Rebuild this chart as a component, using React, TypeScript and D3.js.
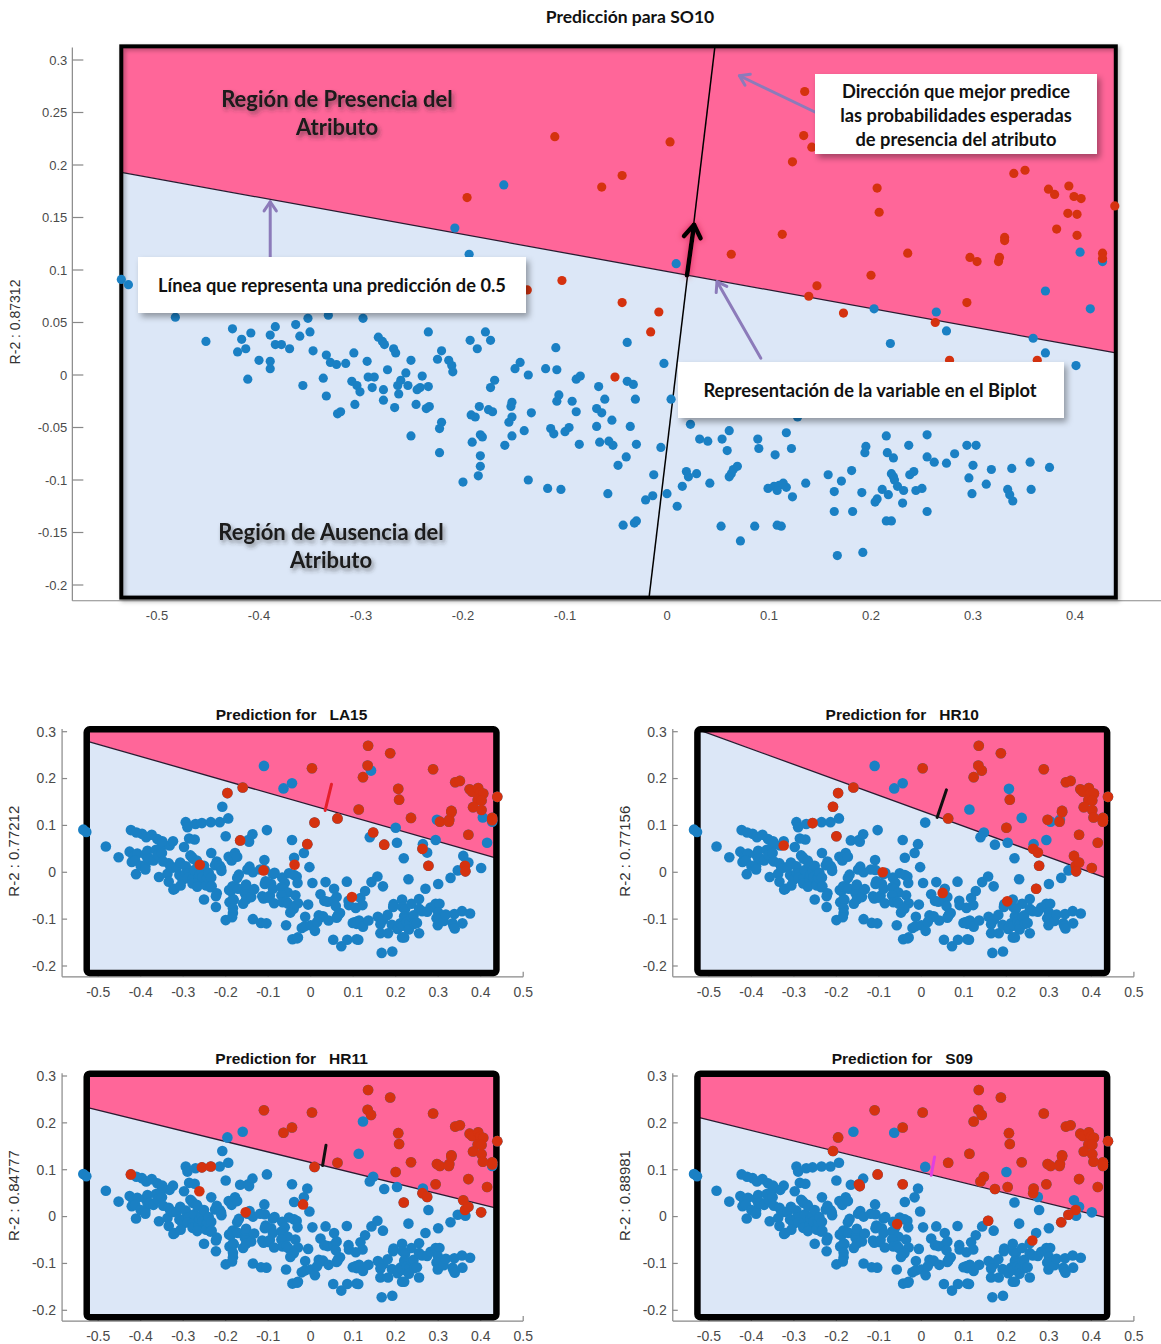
import React from 'react';
import * as d3 from 'd3';

type P = [number, number];

// ---------------- DATA ----------------
// individuals of the biplot that are absent (blue) in SO10, lower cluster
const clusterPts: P[] = [
  [-0.535, 0.091], [-0.528, 0.086],
  [-0.482, 0.055], [-0.452, 0.032], [-0.426, 0.044], [-0.417, 0.034], [-0.408, 0.040], [-0.421, 0.022], [-0.413, 0.025], [-0.411, -0.004],
  [-0.400, 0.014], [-0.389, 0.038], [-0.384, 0.046], [-0.389, 0.013], [-0.389, 0.006], [-0.384, 0.029], [-0.378, 0.029], [-0.370, 0.025],
  [-0.364, 0.048], [-0.360, 0.037], [-0.352, 0.054], [-0.350, 0.041], [-0.357, -0.010], [-0.347, 0.023], [-0.334, 0.019], [-0.337, -0.003],
  [-0.334, -0.020], [-0.332, 0.057], [-0.330, 0.012], [-0.324, 0.010], [-0.315, 0.011], [-0.323, -0.037], [-0.320, -0.035], [-0.307, 0.021],
  [-0.309, -0.006], [-0.304, -0.010], [-0.301, -0.016], [-0.306, -0.028], [-0.298, 0.054], [-0.294, 0.013], [-0.293, -0.002], [-0.287, -0.002],
  [-0.289, -0.012], [-0.283, 0.036], [-0.279, 0.032], [-0.277, 0.029], [-0.278, -0.014], [-0.278, -0.024], [-0.274, 0.005], [-0.268, 0.025],
  [-0.266, 0.021], [-0.264, -0.010], [-0.263, -0.018], [-0.267, -0.031], [-0.261, -0.005], [-0.256, 0.002], [-0.254, -0.010], [-0.251, 0.014],
  [-0.245, -0.014], [-0.246, -0.028], [-0.251, -0.058], [-0.242, -0.012], [-0.240, -0.001], [-0.234, 0.041], [-0.234, -0.011], [-0.236, -0.032],
  [-0.233, -0.030], [-0.225, 0.015], [-0.221, 0.023], [-0.221, -0.045], [-0.223, -0.051], [-0.223, -0.074], [-0.214, 0.014], [-0.211, 0.009],
  [-0.210, 0.003], [-0.200, -0.102], [-0.193, 0.033], [-0.192, -0.038], [-0.188, -0.040], [-0.191, -0.064], [-0.186, 0.025], [-0.184, -0.030],
  [-0.183, -0.057], [-0.181, -0.059], [-0.183, -0.077], [-0.183, -0.087], [-0.185, -0.096], [-0.178, 0.041], [-0.173, 0.033], [-0.175, -0.033],
  [-0.171, -0.035], [-0.173, -0.012], [-0.169, -0.005], [-0.159, -0.067], [-0.155, -0.045], [-0.152, -0.040], [-0.153, -0.030], [-0.152, -0.026],
  [-0.152, -0.058], [-0.149, 0.006], [-0.144, 0.012], [-0.140, -0.053], [-0.136, 0.000], [-0.133, -0.036], [-0.136, -0.100], [-0.119, 0.006],
  [-0.117, -0.108], [-0.114, -0.051], [-0.111, -0.056], [-0.109, 0.026], [-0.108, 0.005], [-0.106, -0.019], [-0.108, -0.025], [-0.104, -0.109],
  [-0.100, -0.054], [-0.096, -0.050], [-0.093, -0.025], [-0.089, -0.035], [-0.089, -0.004], [-0.085, -0.001], [-0.086, -0.066],
  [-0.039, 0.031], [-0.003, 0.011], [-0.039, -0.006], [-0.033, -0.009], [-0.067, -0.011], [-0.061, -0.023], [-0.069, -0.032], [-0.064, -0.036],
  [-0.054, -0.043], [-0.069, -0.049], [-0.036, -0.049], [-0.031, -0.023], [0.004, -0.023], [-0.066, -0.064], [-0.057, -0.063], [-0.053, -0.067],
  [-0.030, -0.066], [-0.040, -0.078], [-0.048, -0.086], [-0.006, -0.069], [-0.013, -0.095], [-0.058, -0.113], [-0.021, -0.119], [-0.014, -0.115],
  [0.000, -0.113], [0.010, -0.125], [-0.043, -0.143], [-0.032, -0.141], [-0.030, -0.139], [0.023, -0.047], [0.032, -0.061], [0.040, -0.063],
  [0.054, -0.061], [0.061, -0.053], [0.059, -0.072], [0.089, -0.061], [0.090, -0.070], [0.106, -0.076], [0.117, -0.055], [0.122, -0.070],
  [0.128, -0.040], [0.019, -0.092], [0.021, -0.097], [0.029, -0.094], [0.015, -0.106], [0.042, -0.103], [0.063, -0.094], [0.065, -0.090],
  [0.069, -0.087], [0.061, -0.097], [0.099, -0.108], [0.105, -0.106], [0.110, -0.105], [0.114, -0.103], [0.108, -0.110], [0.117, -0.107],
  [0.123, -0.116], [0.053, -0.144], [0.072, -0.158], [0.086, -0.144], [0.108, -0.143], [0.112, -0.144], [0.136, -0.103], [0.158, -0.095],
  [0.171, -0.101], [0.181, -0.091], [0.164, -0.111], [0.164, -0.130], [0.182, -0.130], [0.167, -0.172], [0.192, -0.169], [0.191, -0.112],
  [0.195, -0.068], [0.194, -0.074], [0.204, -0.121], [0.206, -0.118], [0.215, -0.058], [0.216, -0.074], [0.222, -0.079], [0.220, -0.094],
  [0.222, -0.097], [0.223, -0.100], [0.211, -0.109], [0.217, -0.114], [0.226, -0.106], [0.232, -0.110], [0.231, -0.122], [0.215, -0.139],
  [0.220, -0.139], [0.237, -0.067], [0.238, -0.095], [0.242, -0.092], [0.244, -0.110], [0.250, -0.108], [0.255, -0.057], [0.255, -0.078],
  [0.262, -0.083], [0.255, -0.130], [0.274, -0.084], [0.282, -0.075], [0.294, -0.067], [0.303, -0.067], [0.300, -0.086], [0.296, -0.098],
  [0.299, -0.113], [0.313, -0.104], [0.318, -0.090], [0.334, -0.109], [0.336, -0.114], [0.339, -0.120], [0.338, -0.089], [0.356, -0.083],
  [0.357, -0.109], [0.375, -0.088],
];

// individuals hidden behind the annotation boxes of the main chart
const hiddenPts: P[] = [
  [-0.423, 0.090], [-0.397, 0.082], [-0.387, 0.075], [-0.361, 0.071], [-0.349, 0.066], [-0.294, 0.107], [-0.290, 0.096], [-0.271, 0.103],
  [-0.256, 0.105], [-0.235, 0.107], [-0.214, 0.107], [-0.200, 0.077], [-0.286, 0.072], [-0.273, 0.070], [-0.166, 0.068], [-0.147, 0.069],
  [-0.145, 0.065], [-0.324, 0.066], [-0.374, 0.080], [-0.410, 0.085],
  [0.035, -0.021], [0.055, -0.035], [0.143, -0.021], [0.157, -0.009], [0.170, -0.030], [0.270, -0.035], [0.300, -0.025], [0.329, -0.012],
  [0.346, 0.004], [0.364, 0.002], [0.085, -0.020], [0.230, -0.015],
];

// individuals of the upper part of the plane (shared by all panels)
const upperPts: P[] = [
  [0.135, 0.270], [0.003, 0.222], [-0.044, 0.190], [-0.064, 0.179], [0.134, 0.228], [0.142, 0.217], [0.123, 0.203], [0.340, 0.192], [0.351, 0.195], [0.206, 0.178],
  [0.208, 0.155], [0.374, 0.177], [0.380, 0.172], [0.394, 0.180], [0.399, 0.170], [0.406, 0.168], [0.393, 0.154], [0.402, 0.153], [0.439, 0.161], [0.382, 0.139],
  [0.402, 0.133], [0.113, 0.134], [0.063, 0.115], [0.236, 0.116], [0.331, 0.131], [0.331, 0.128], [0.297, 0.112], [0.304, 0.108], [0.326, 0.112], [0.325, 0.108],
  [0.427, 0.116], [0.427, 0.111], [0.200, 0.095], [0.147, 0.085], [0.139, 0.075], [-0.044, 0.069], [-0.008, 0.060], [0.173, 0.059], [0.294, 0.069], [0.263, 0.050],
  [0.277, 0.014], [0.363, 0.014], [-0.016, 0.041], [-0.051, -0.002], [-0.110, 0.227], [-0.196, 0.169], [-0.103, 0.090], [-0.137, 0.081], [0.187, 0.254], [0.288, 0.220],
  [-0.160, 0.181], [-0.208, 0.140], [-0.194, 0.115], [0.009, 0.106], [0.405, 0.117], [0.427, 0.108], [0.371, 0.080], [0.415, 0.063], [0.203, 0.063], [0.264, 0.060],
  [0.274, 0.042], [0.219, 0.030], [0.359, 0.035], [0.371, 0.021], [0.401, 0.009],
];

// presence (1) / absence (0) of each attribute for the upper individuals
const presenceSO10 = [
  1, 1, 1, 1, 1, 1, 1, 1, 1, 1, 1, 1, 1, 1, 1, 1, 1, 1, 1, 1, 1, 1, 1, 1, 1, 1, 1, 1, 1, 1,
  1, 1, 1, 1, 1, 1, 1, 1, 1, 1, 1, 1, 1, 1, 1, 1, 1, 1, 1, 1, 0, 0, 0, 0, 0, 0, 0, 0, 0, 0,
  0, 0, 0, 0, 0,
];
const presenceLA15 = [
  1, 1, 0, 0, 1, 0, 1, 1, 1, 1, 1, 1, 1, 1, 1, 1, 1, 1, 1, 1, 1, 1, 1, 1, 1, 1, 0, 1, 1, 1,
  1, 1, 0, 1, 0, 0, 1, 1, 0, 1, 1, 1, 0, 0, 0, 1, 0, 0, 1, 1, 1, 0, 0, 1, 0, 0, 1, 0, 0, 0,
  0, 0, 0, 0, 0,
];
const presenceHR10 = [
  1, 1, 0, 0, 1, 1, 1, 1, 1, 0, 1, 1, 1, 1, 1, 1, 1, 1, 1, 1, 1, 0, 1, 0, 1, 1, 1, 0, 0, 1,
  1, 1, 1, 0, 0, 0, 0, 0, 0, 1, 1, 1, 0, 0, 0, 1, 0, 0, 1, 1, 1, 1, 0, 0, 1, 1, 1, 1, 0, 0,
  1, 0, 1, 1, 1,
];
const presenceHR11 = [
  1, 1, 1, 1, 1, 1, 0, 1, 1, 1, 1, 1, 1, 1, 1, 1, 1, 1, 1, 1, 1, 0, 1, 1, 1, 1, 1, 1, 1, 1,
  1, 1, 1, 0, 0, 0, 0, 0, 1, 1, 0, 1, 0, 0, 1, 0, 0, 0, 1, 1, 0, 0, 0, 1, 1, 0, 1, 1, 0, 0,
  1, 1, 1, 1, 1,
];
const presenceS09 = [
  1, 1, 1, 0, 1, 1, 1, 1, 1, 1, 1, 1, 1, 1, 1, 1, 1, 1, 1, 1, 1, 1, 1, 1, 1, 1, 1, 1, 1, 1,
  1, 1, 0, 1, 1, 1, 0, 1, 1, 1, 0, 1, 0, 0, 1, 1, 1, 0, 1, 1, 0, 1, 0, 0, 1, 1, 1, 1, 1, 1,
  0, 0, 0, 0, 0,
];

// further individuals with presence in the lower part of each small panel
const extraRedLA15: P[] = [[-0.166, 0.068], [0.364, 0.002], [-0.261, 0.016], [-0.111, 0.004], [-0.038, 0.016], [0.097, -0.053]];
const extraRedHR10: P[] = [[0.364, 0.002], [0.270, -0.035], [0.202, -0.062], [0.050, -0.044], [-0.091, 0.000], [-0.324, 0.057], [-0.256, 0.105], [-0.200, 0.077]];
const extraRedHR11: P[] = [[-0.423, 0.090], [-0.256, 0.105], [-0.235, 0.107], [-0.262, 0.054], [-0.153, 0.009], [-0.018, 0.026]];
const extraRedS09: P[] = [[0.346, 0.004], [0.329, -0.012], [-0.147, 0.069], [-0.145, 0.065], [-0.057, -0.016], [0.157, -0.009], [0.261, -0.051]];

// main panel geometry in data units
const mainBoundary: P[] = [[-0.535, 0.193], [0.44, 0.021]];
const mainDirection: P[] = [[-0.0176, -0.212], [0.047, 0.313]];
const mainArrow: P[] = [[0.0196, 0.095], [0.0265, 0.143]];
const mainFrameX = [-0.535, 0.44];
const mainFrameY = [-0.212, 0.313];

const mainXTicks = [-0.5, -0.4, -0.3, -0.2, -0.1, 0, 0.1, 0.2, 0.3, 0.4];
const mainXTickLabels = ['-0.5', '-0.4', '-0.3', '-0.2', '-0.1', '0', '0.1', '0.2', '0.3', '0.4'];
const mainYTicks = [0.3, 0.25, 0.2, 0.15, 0.1, 0.05, 0, -0.05, -0.1, -0.15, -0.2];
const mainYTickLabels = ['0.3', '0.25', '0.2', '0.15', '0.1', '0.05', '0', '-0.05', '-0.1', '-0.15', '-0.2'];

const smallXTicks = [-0.5, -0.4, -0.3, -0.2, -0.1, 0, 0.1, 0.2, 0.3, 0.4, 0.5];
const smallXTickLabels = ['-0.5', '-0.4', '-0.3', '-0.2', '-0.1', '0', '0.1', '0.2', '0.3', '0.4', '0.5'];
const smallYTicks = [0.3, 0.2, 0.1, 0, -0.1, -0.2];
const smallYTickLabels = ['0.3', '0.2', '0.1', '0', '-0.1', '-0.2'];

const smallNames = ['LA15', 'HR10', 'HR11', 'S09'];
const smallR2 = ['0.77212', '0.77156', '0.84777', '0.88981'];
const smallBoundaries: P[][] = [
  [[-0.527, 0.280], [0.437, 0.030]],
  [[-0.527, 0.305], [0.437, -0.013]],
  [[-0.527, 0.233], [0.437, 0.018]],
  [[-0.527, 0.212], [0.437, -0.003]],
];
const smallSegments: P[][] = [
  [[0.034, 0.132], [0.049, 0.188]],
  [[0.037, 0.117], [0.059, 0.176]],
  [[0.028, 0.109], [0.036, 0.152]],
  [[0.023, 0.088], [0.031, 0.127]],
];
const smallPresence = [presenceLA15, presenceHR10, presenceHR11, presenceS09];
const smallExtraRed = [extraRedLA15, extraRedHR10, extraRedHR11, extraRedS09];
const smallFrameX = [-0.527, 0.437];
const smallFrameY = [-0.215, 0.305];

// ---------------- STYLE ----------------
const PINK = '#FF6699';
const LIGHT = '#DCE7F7';
const RED = '#D5320F';
const BLUE = '#1A80C4';
const PURPLE = '#8C7BBA';
const TICK = '#4a4a4a';
const tickFont = "'Liberation Sans', Arial, Helvetica, sans-serif";
const annFont = "Lato, 'Open Sans', sans-serif";
const segColors = ['#E5202A', '#111111', '#111111', '#E040E0'];

function Arrow({ x1, y1, x2, y2, color, width, head }: any) {
  const a = Math.atan2(y2 - y1, x2 - x1);
  const w1 = [x2 + head * Math.cos(a + 2.55), y2 + head * Math.sin(a + 2.55)];
  const w2 = [x2 + head * Math.cos(a - 2.55), y2 + head * Math.sin(a - 2.55)];
  return (
    <g stroke={color} strokeWidth={width} fill="none" strokeLinecap="round" strokeLinejoin="round">
      <line x1={x1} y1={y1} x2={x2} y2={y2} />
      <polyline points={`${w1[0]},${w1[1]} ${x2},${y2} ${w2[0]},${w2[1]}`} />
    </g>
  );
}

function MainChart() {
  const x = d3.scaleLinear().domain([-0.5, 0.4]).range([157, 1075]);
  const y = d3.scaleLinear().domain([-0.2, 0.3]).range([585, 60]);
  const fx0 = x(mainFrameX[0]), fx1 = x(mainFrameX[1]);
  const fy0 = y(mainFrameY[1]), fy1 = y(mainFrameY[0]);
  const bL = y(mainBoundary[0][1]), bR = y(mainBoundary[1][1]);
  const axX = x(-0.583), axY = y(-0.215);
  const reds = upperPts.filter((_, i) => presenceSO10[i] === 1);
  const blues = upperPts.filter((_, i) => presenceSO10[i] === 0);
  const r = 4.6;
  const boxText = { fontFamily: annFont, fontWeight: 700, fontSize: 18.3, fill: '#111' } as any;
  const regionText = { fontFamily: annFont, fontWeight: 700, fontSize: 22, fill: '#1a1a1a' } as any;
  return (
    <g>
      <text x={630} y={23} textAnchor="middle" style={{ fontFamily: annFont, fontWeight: 700, fontSize: 17.5 }} fill="#111">Predicción para SO10</text>
      {/* axes */}
      <line x1={axX} y1={y(0.312)} x2={axX} y2={axY} stroke="#888" strokeWidth={1.2} />
      <line x1={axX} y1={axY} x2={1161} y2={axY} stroke="#888" strokeWidth={1.2} />
      {mainYTicks.map((t, i) => (
        <g key={'yt' + i}>
          <line x1={axX} x2={axX + 11} y1={y(t)} y2={y(t)} stroke="#888" strokeWidth={1.2} />
          <text x={axX - 5} y={y(t)} dy="0.35em" textAnchor="end" style={{ fontFamily: tickFont, fontSize: 13 }} fill={TICK}>{mainYTickLabels[i]}</text>
        </g>
      ))}
      {mainXTicks.map((t, i) => (
        <text key={'xt' + i} x={x(t)} y={axY + 19} textAnchor="middle" style={{ fontFamily: tickFont, fontSize: 13 }} fill={TICK}>{mainXTickLabels[i]}</text>
      ))}
      <text transform={`translate(20,${(fy0 + fy1) / 2}) rotate(-90)`} textAnchor="middle" style={{ fontFamily: tickFont, fontSize: 14 }} fill="#333">R-2 : 0.87312</text>
      {/* regions */}
      <polygon points={`${fx0},${fy0} ${fx1},${fy0} ${fx1},${bR} ${fx0},${bL}`} fill={PINK} />
      <polygon points={`${fx0},${bL} ${fx1},${bR} ${fx1},${fy1} ${fx0},${fy1}`} fill={LIGHT} />
      <line x1={fx0} y1={bL} x2={fx1} y2={bR} stroke="#2a1a30" strokeWidth={1.3} />
      <line x1={x(mainDirection[0][0])} y1={y(mainDirection[0][1])} x2={x(mainDirection[1][0])} y2={y(mainDirection[1][1])} stroke="#000" strokeWidth={1.5} />
      <rect x={fx0} y={fy0} width={fx1 - fx0} height={fy1 - fy0} fill="none" stroke="#000" strokeWidth={4} filter="url(#frameShadow)" />
      {/* points */}
      {clusterPts.concat(hiddenPts, blues).map((p, i) => (
        <circle key={'b' + i} cx={x(p[0])} cy={y(p[1])} r={r} fill={BLUE} />
      ))}
      {reds.map((p, i) => (
        <circle key={'r' + i} cx={x(p[0])} cy={y(p[1])} r={r} fill={RED} />
      ))}
      <g filter="url(#arrowGlow)">
        <Arrow x1={x(mainArrow[0][0])} y1={y(mainArrow[0][1])} x2={x(mainArrow[1][0])} y2={y(mainArrow[1][1])} color="#000" width={4.5} head={15} />
      </g>
      {/* region labels */}
      <g filter="url(#textShadow)">
        <text x={337} y={107} textAnchor="middle" style={regionText}>Región de Presencia del</text>
        <text x={337} y={135} textAnchor="middle" style={regionText}>Atributo</text>
        <text x={331} y={540} textAnchor="middle" style={regionText}>Región de Ausencia del</text>
        <text x={331} y={568} textAnchor="middle" style={regionText}>Atributo</text>
      </g>
      {/* annotation arrows */}
      <Arrow x1={x(-0.389)} y1={y(0.113)} x2={x(-0.389)} y2={y(0.165)} color={PURPLE} width={3} head={11} />
      <Arrow x1={x(0.146)} y1={y(0.250)} x2={x(0.071)} y2={y(0.285)} color={PURPLE} width={3} head={11} />
      <Arrow x1={x(0.092)} y1={y(0.016)} x2={x(0.049)} y2={y(0.089)} color={PURPLE} width={3} head={11} />
      {/* annotation boxes */}
      <g filter="url(#boxShadow)">
        <rect x={138} y={257} width={388} height={56} fill="#fff" />
        <rect x={815} y={74} width={282} height={80} fill="#fff" />
        <rect x={678} y={362} width={386} height={56} fill="#fff" />
      </g>
      <text x={332} y={292} textAnchor="middle" style={boxText}>Línea que representa una predicción de 0.5</text>
      <text x={956} y={98} textAnchor="middle" style={boxText}>Dirección que mejor predice</text>
      <text x={956} y={122} textAnchor="middle" style={boxText}>las probabilidades  esperadas</text>
      <text x={956} y={146} textAnchor="middle" style={boxText}>de presencia del atributo</text>
      <text x={870} y={397} textAnchor="middle" style={boxText}>Representación de la variable en el Biplot</text>
    </g>
  );
}

function SmallChart({ idx, ox, oy }: { idx: number; ox: number; oy: number }) {
  const x = d3.scaleLinear().domain([-0.5, 0.5]).range([98.2 + ox, 523.2 + ox]);
  const y = d3.scaleLinear().domain([-0.2, 0.3]).range([966 + oy, 731.7 + oy]);
  const fx0 = x(smallFrameX[0]), fx1 = x(smallFrameX[1]);
  const fy0 = y(smallFrameY[1]), fy1 = y(smallFrameY[0]);
  const bnd = smallBoundaries[idx];
  const bL = y(bnd[0][1]), bR = y(bnd[1][1]);
  const seg = smallSegments[idx];
  const pres = smallPresence[idx];
  const axX = x(-0.585), axY = y(-0.223);
  const reds = upperPts.filter((_, i) => pres[i] === 1).concat(smallExtraRed[idx]);
  const r = 5.3;
  const tick = { fontFamily: tickFont, fontSize: 14 } as any;
  return (
    <g>
      <text x={(fx0 + fx1) / 2} y={y(0.3) - 12} textAnchor="middle" style={{ fontFamily: tickFont, fontWeight: 700, fontSize: 15.5, whiteSpace: 'pre' }} fill="#111">{'Prediction for   ' + smallNames[idx]}</text>
      <line x1={axX} y1={y(0.306)} x2={axX} y2={axY} stroke="#888" strokeWidth={1.2} />
      <line x1={axX} y1={axY} x2={x(0.5)} y2={axY} stroke="#888" strokeWidth={1.2} />
      {smallYTicks.map((t, i) => (
        <g key={'yt' + i}>
          <line x1={axX} x2={axX + 5} y1={y(t)} y2={y(t)} stroke="#888" strokeWidth={1.2} />
          <text x={axX - 6} y={y(t)} dy="0.35em" textAnchor="end" style={tick} fill={TICK}>{smallYTickLabels[i]}</text>
        </g>
      ))}
      {smallXTicks.map((t, i) => (
        <g key={'xt' + i}>
          <line x1={x(t)} x2={x(t)} y1={axY} y2={axY - 5} stroke="#888" strokeWidth={1.2} />
          <text x={x(t)} y={axY + 20} textAnchor="middle" style={tick} fill={TICK}>{smallXTickLabels[i]}</text>
        </g>
      ))}
      <text transform={`translate(${axX - 43},${(fy0 + fy1) / 2}) rotate(-90)`} textAnchor="middle" style={{ fontFamily: tickFont, fontSize: 15 }} fill="#333">{'R-2 : ' + smallR2[idx]}</text>
      <polygon points={`${fx0},${fy0} ${fx1},${fy0} ${fx1},${bR} ${fx0},${bL}`} fill={PINK} />
      <polygon points={`${fx0},${bL} ${fx1},${bR} ${fx1},${fy1} ${fx0},${fy1}`} fill={LIGHT} />
      <line x1={fx0} y1={bL} x2={fx1} y2={bR} stroke="#2a1a30" strokeWidth={1.3} />
      <rect x={fx0} y={fy0} width={fx1 - fx0} height={fy1 - fy0} rx={3} fill="none" stroke="#000" strokeWidth={6.5} />
      {clusterPts.concat(hiddenPts, upperPts).map((p, i) => (
        <circle key={'b' + i} cx={x(p[0])} cy={y(p[1])} r={r} fill={BLUE} />
      ))}
      {reds.map((p, i) => (
        <circle key={'r' + i} cx={x(p[0])} cy={y(p[1])} r={r} fill={RED} />
      ))}
      <line x1={x(seg[0][0])} y1={y(seg[0][1])} x2={x(seg[1][0])} y2={y(seg[1][1])} stroke={segColors[idx]} strokeWidth={3} strokeLinecap="round" />
    </g>
  );
}

export default function App() {
  return (
    <svg width={1161} height={1344} viewBox="0 0 1161 1344" style={{ position: 'absolute', left: 0, top: 0, background: '#fff' }}>
      <defs>
        <filter id="boxShadow" x="-10%" y="-20%" width="130%" height="160%">
          <feDropShadow dx="3" dy="4" stdDeviation="3" floodColor="#000" floodOpacity="0.35" />
        </filter>
        <filter id="frameShadow" x="-5%" y="-5%" width="110%" height="110%">
          <feDropShadow dx="2" dy="2" stdDeviation="2" floodColor="#000" floodOpacity="0.3" />
        </filter>
        <filter id="textShadow" x="-10%" y="-30%" width="120%" height="160%">
          <feDropShadow dx="2" dy="3" stdDeviation="2.2" floodColor="#333" floodOpacity="0.55" />
        </filter>
        <filter id="arrowGlow" x="-100%" y="-50%" width="300%" height="200%">
          <feDropShadow dx="0" dy="0" stdDeviation="3" floodColor="#B0102A" floodOpacity="0.6" />
        </filter>
      </defs>
      <rect x={0} y={0} width={1161} height={1344} fill="#fff" />
      <MainChart />
      <SmallChart idx={0} ox={0} oy={0} />
      <SmallChart idx={1} ox={610.7} oy={0} />
      <SmallChart idx={2} ox={0} oy={344.3} />
      <SmallChart idx={3} ox={610.7} oy={344.3} />
    </svg>
  );
}
